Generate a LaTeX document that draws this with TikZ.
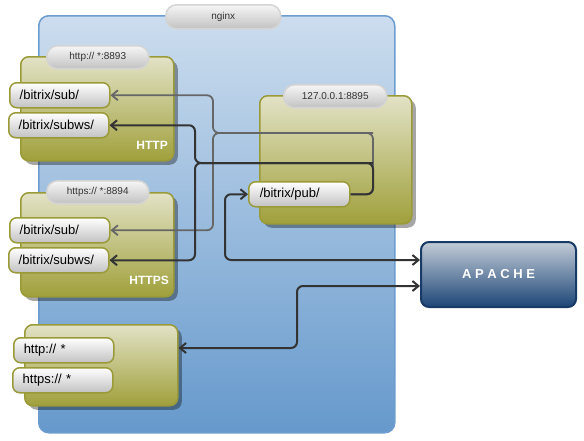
\documentclass[tikz,border=0pt]{standalone}
\usepackage{fontspec}
\setmainfont{Liberation Sans}
\usetikzlibrary{arrows.meta,shadows}
\definecolor{cTop}{HTML}{CCDDEE}
\definecolor{cBot}{HTML}{6699CC}
\definecolor{cBorder}{HTML}{6C9CD0}
\definecolor{oTop}{HTML}{E2E2C6}
\definecolor{oBot}{HTML}{A0A03C}
\definecolor{oBorder}{HTML}{9A9A38}
\definecolor{pTop}{HTML}{F6F6F6}
\definecolor{pBot}{HTML}{C2C2C2}
\definecolor{pBorder}{HTML}{D4D4D4}
\definecolor{aTop}{HTML}{C4CCD8}
\definecolor{aBot}{HTML}{1C4676}
\definecolor{aBorder}{HTML}{173A66}
\definecolor{gLine}{HTML}{666666}
\definecolor{dLine}{HTML}{333333}
\begin{document}
\begin{tikzpicture}[x=1pt,y=-1pt,
  >={Straight Barb[length=6pt,width=10pt]},
  container/.style={draw=cBorder, line width=1.5pt, rounded corners=10pt, top color=cTop, bottom color=cBot, minimum width=356pt, minimum height=417pt, anchor=north west, inner sep=0pt},
  olive/.style={draw=oBorder, line width=1.5pt, rounded corners=8pt, top color=oTop, bottom color=oBot, anchor=north west, inner sep=0pt, drop shadow={shadow xshift=4pt, shadow yshift=-4pt, fill=black, opacity=0.35}},
  tag/.style={draw=pBorder, line width=1.5pt, rounded corners=11pt, top color=pTop, bottom color=pBot, anchor=north west, inner sep=0pt, font=\fontsize{10}{12}\selectfont, text=black!80},
  route/.style={draw=oBorder, line width=1.5pt, rounded corners=7pt, top color=white, bottom color=pBot, anchor=north west, inner xsep=10pt, inner ysep=0pt, text width=80pt, align=left, minimum height=25pt, font=\fontsize{13}{15}\selectfont},
  boxtitle/.style={text=white, font=\fontsize{12}{14}\selectfont\bfseries, inner sep=0pt},
  apache/.style={draw=aBorder, line width=2pt, rounded corners=8pt, top color=aTop, bottom color=aBot, anchor=north west, inner sep=0pt, minimum width=155pt, minimum height=65pt, text=white, font=\fontsize{13}{15}\selectfont\bfseries},
  gline/.style={draw=gLine, line width=1.8pt, rounded corners=6pt},
  dline/.style={draw=dLine, line width=2pt, rounded corners=6pt}
]
\useasboundingbox (0,0) rectangle (584,440);
\node[container] (nginx) at (38,15) {};
\node[tag, minimum width=115pt, minimum height=24pt] (nginxt) at (165,4) {nginx};
\node[olive, minimum width=153pt, minimum height=104pt] (httpb) at (20,56) {};
\node[olive, minimum width=153pt, minimum height=104pt] (httpsb) at (20,192) {};
\node[olive, minimum width=153pt, minimum height=81pt] (allb) at (24,324) {};
\node[olive, minimum width=152pt, minimum height=128pt] (locb) at (259,95) {};
\node[tag, minimum width=102pt, minimum height=23pt] (httpl) at (46,45) {http:// *:8893};
\node[tag, minimum width=102pt, minimum height=23pt] (httpsl) at (46,180) {https:// *:8894};
\node[tag, minimum width=103pt, minimum height=23pt] (locl) at (283,84) {127.0.0.1:8895};
\node[route] (hsub) at (9,82) {/bitrix/sub/};
\node[route] (hsubws) at (8,112) {/bitrix/subws/};
\node[route] (ssub) at (9,217) {/bitrix/sub/};
\node[route] (ssubws) at (8,247) {/bitrix/subws/};
\node[route] (hall) at (13,337) {http:// *};
\node[route] (sall) at (12,367) {https:// *};
\node[route, inner xsep=11pt, text width=79pt] (pub) at (248,181) {/bitrix/pub/};
\node[boxtitle, anchor=base east] (httpn) at (168,149) {HTTP};
\node[boxtitle, anchor=base east] (httpsn) at (169,284) {HTTPS};
\node[apache] (apache) at (420,241) {A\kern3.6pt P\kern3.6pt A\kern3.6pt C\kern3.6pt H\kern3.6pt E};
\coordinate (gt) at (373,133);
\coordinate (gj) at (213,133);
\coordinate (dt) at (373,163);
\coordinate (dj) at (195,163);
\coordinate (pc) at (225,260);
\coordinate (bc) at (297,286);
\coordinate (by) at (0,348);
\draw[gline, ->] (pub.east) -| (gt) -- (gj) |- (hsub.east);
\draw[gline, ->] (gt) -- (gj) |- (ssub.east);
\draw[dline, ->] (pub.east) -| (dt) -- (dj) |- (hsubws.east);
\draw[dline, ->] (dt) -- (dj) |- (ssubws.east);
\draw[dline, <->] (pub.west) -| (pc) -- (pc -| apache.west);
\draw[dline, <->] (allb.east |- by) -| (bc) -- (bc -| apache.west);
\end{tikzpicture}
\end{document}
